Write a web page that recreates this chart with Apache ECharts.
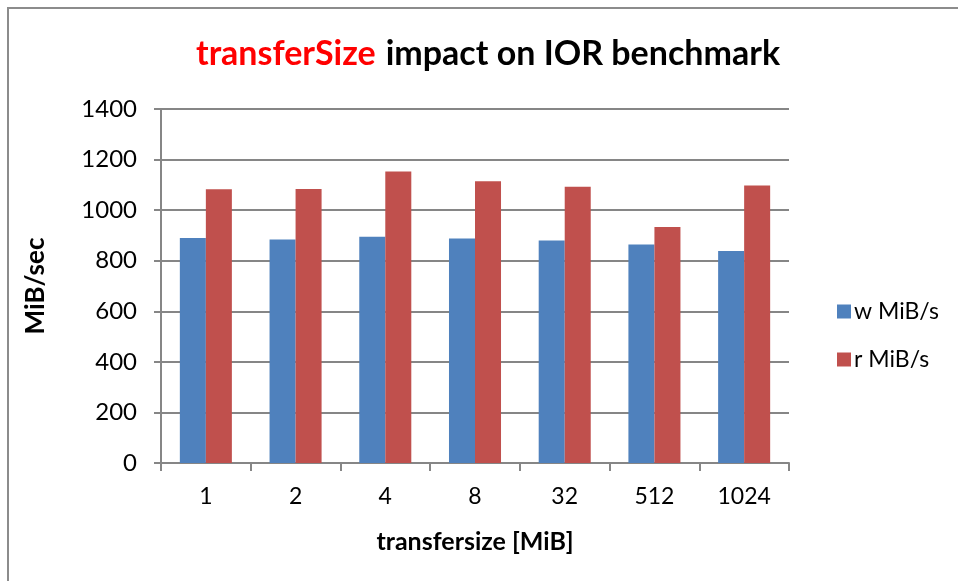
<!DOCTYPE html>
<html>
<head>
<meta charset="utf-8">
<script src="https://cdn.jsdelivr.net/npm/echarts@6/dist/echarts.min.js"></script>
<style>
  html, body { margin: 0; padding: 0; background: #fff; }
  #chart { width: 958px; height: 581px; }
</style>
</head>
<body>
<div id="chart"></div>
<script>
const categories = ['1', '2', '4', '8', '32', '512', '1024'];
const writeMiB = [890, 884, 895, 888, 880, 864, 838];
const readMiB = [1083, 1084, 1153, 1114, 1093, 933, 1097];
const yTicks = [0, 200, 400, 600, 800, 1000, 1200, 1400];

const font = 'Lato';
const axisGray = '#868686';

const chart = echarts.init(document.getElementById('chart'));

const option = {
  animation: false,
  textStyle: { fontFamily: font },
  graphic: [{
    type: 'rect',
    shape: { x: 8, y: 8, width: 960, height: 580 },
    style: { fill: 'none', stroke: '#8c8c8c', lineWidth: 2 },
    silent: true
  }],
  title: {
    left: 191,
    top: 32,
    text: '{red|transferSize}{sp| }{black|impact on IOR benchmark}',
    textStyle: {
      rich: {
        red: { color: '#ff0000', fontSize: 34, fontWeight: 'bold', fontFamily: font },
        sp: { fontSize: 34, width: 10, fontFamily: font },
        black: { color: '#000', fontSize: 34, fontWeight: 'bold', fontFamily: font }
      }
    }
  },
  legend: {
    orient: 'vertical',
    left: 832,
    top: 295,
    itemWidth: 14,
    itemHeight: 14,
    itemGap: 25,
    icon: 'rect',
    textStyle: { fontSize: 23, color: '#000', fontFamily: font, padding: [0, 0, 0, -2] }
  },
  grid: { left: 161, right: 169, top: 109, bottom: 118 },
  xAxis: {
    type: 'category',
    data: categories,
    name: 'transfersize [MiB]',
    nameLocation: 'middle',
    nameGap: 66,
    nameTextStyle: { fontSize: 25, fontWeight: 'bold', color: '#000' },
    axisLine: { lineStyle: { color: axisGray, width: 2 } },
    axisTick: { show: true, length: 8, lineStyle: { color: axisGray, width: 2 } },
    axisLabel: { fontSize: 23, color: '#000', margin: 22 }
  },
  yAxis: {
    type: 'value',
    min: 0,
    max: 1400,
    interval: 200,
    name: 'MiB/sec',
    nameLocation: 'middle',
    nameGap: 112,
    nameRotate: 90,
    nameTextStyle: { fontSize: 26, fontWeight: 'bold', color: '#000' },
    axisLine: { show: true, lineStyle: { color: axisGray, width: 2 } },
    axisTick: { show: true, length: 7, lineStyle: { color: axisGray, width: 2 } },
    axisLabel: {
      fontSize: 24, color: '#000', margin: 24,
      formatter: v => (yTicks.indexOf(v) >= 0 ? String(v) : '')
    },
    splitLine: { lineStyle: { color: axisGray, width: 2 } }
  },
  series: [
    {
      name: 'w MiB/s',
      type: 'bar',
      data: writeMiB,
      barGap: '0%',
      barCategoryGap: '42%',
      itemStyle: { color: '#4f81bd' }
    },
    {
      name: 'r MiB/s',
      type: 'bar',
      data: readMiB,
      itemStyle: { color: '#c0504d' }
    }
  ]
};

chart.setOption(option);
</script>
</body>
</html>
